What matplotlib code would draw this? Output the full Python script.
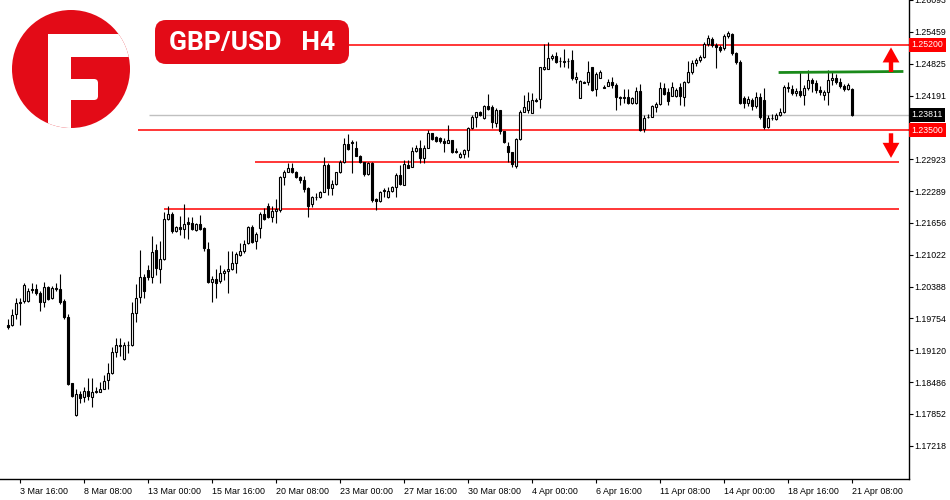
import numpy as np
import pandas as pd
import matplotlib
matplotlib.use('Agg')
import matplotlib.pyplot as plt
from matplotlib.patches import Circle, Rectangle, FancyBboxPatch, FancyArrow
from matplotlib.transforms import blended_transform_factory

# chart title
symbol = 'GBP/USD'
timeframe = 'H4'

# H4 candles, 3 Mar 04:00 .. 21 Apr 08:00
opens = [
    1.1962, 1.1962, 1.1984, 1.2008, 1.2010, 1.2010, 1.2034, 1.2034, 1.2026, 1.2008,
    1.2038, 1.2016, 1.2034, 1.2034, 1.2010, 1.1978, 1.1847, 1.1783, 1.1825, 1.1819,
    1.1831, 1.1819, 1.1829, 1.1829, 1.1835, 1.1853, 1.1867, 1.1909, 1.1921, 1.1895,
    1.1922, 1.1922, 1.1986, 1.2018, 1.2058, 1.2072, 1.2058, 1.2112, 1.2074, 1.2094,
    1.2173, 1.2183, 1.2149, 1.2157, 1.2153, 1.2167, 1.2165, 1.2151, 1.2163, 1.2155,
    1.2113, 1.2048, 1.2054, 1.2050, 1.2066, 1.2070, 1.2074, 1.2086, 1.2102, 1.2110,
    1.2125, 1.2157, 1.2129, 1.2155, 1.2183, 1.2199, 1.2177, 1.2189, 1.2191, 1.2257,
    1.2267, 1.2275, 1.2267, 1.2257, 1.2251, 1.2235, 1.2203, 1.2217, 1.2217, 1.2227,
    1.2281, 1.2235, 1.2243, 1.2267, 1.2287, 1.2322, 1.2326, 1.2314, 1.2299, 1.2287,
    1.2263, 1.2285, 1.2213, 1.2209, 1.2231, 1.2217, 1.2229, 1.2237, 1.2261, 1.2241,
    1.2281, 1.2277, 1.2309, 1.2314, 1.2295, 1.2314, 1.2344, 1.2336, 1.2334, 1.2328,
    1.2324, 1.2330, 1.2309, 1.2297, 1.2303, 1.2311, 1.2354, 1.2376, 1.2386, 1.2374,
    1.2398, 1.2396, 1.2364, 1.2390, 1.2348, 1.2318, 1.2307, 1.2279, 1.2332, 1.2386,
    1.2390, 1.2384, 1.2410, 1.2412, 1.2472, 1.2472, 1.2494, 1.2498, 1.2488, 1.2486,
    1.2488, 1.2490, 1.2452, 1.2414, 1.2446, 1.2446, 1.2476, 1.2432, 1.2454, 1.2436,
    1.2438, 1.2446, 1.2440, 1.2416, 1.2416, 1.2416, 1.2404, 1.2404, 1.2428, 1.2352,
    1.2376, 1.2376, 1.2396, 1.2402, 1.2434, 1.2426, 1.2418, 1.2418, 1.2436, 1.2416,
    1.2446, 1.2466, 1.2484, 1.2490, 1.2496, 1.2521, 1.2531, 1.2519, 1.2515, 1.2513,
    1.2537, 1.2541, 1.2504, 1.2486, 1.2414, 1.2404, 1.2410, 1.2398, 1.2416, 1.2410,
    1.2356, 1.2374, 1.2372, 1.2380, 1.2386, 1.2436, 1.2432, 1.2424, 1.2428, 1.2420,
    1.2434, 1.2450, 1.2444, 1.2430, 1.2420, 1.2426, 1.2450, 1.2454, 1.2446, 1.2438,
    1.2432, 1.2432,
]
highs = [
    1.1974, 1.1994, 1.2016, 1.2016, 1.2046, 1.2036, 1.2046, 1.2044, 1.2030, 1.2048,
    1.2040, 1.2040, 1.2046, 1.2064, 1.2014, 1.1984, 1.1847, 1.1835, 1.1831, 1.1839,
    1.1857, 1.1857, 1.1839, 1.1849, 1.1863, 1.1887, 1.1918, 1.1936, 1.1936, 1.1928,
    1.1930, 1.2008, 1.2044, 1.2112, 1.2064, 1.2082, 1.2139, 1.2123, 1.2129, 1.2187,
    1.2199, 1.2187, 1.2159, 1.2179, 1.2203, 1.2177, 1.2177, 1.2165, 1.2181, 1.2157,
    1.2127, 1.2060, 1.2074, 1.2082, 1.2074, 1.2110, 1.2110, 1.2108, 1.2125, 1.2131,
    1.2159, 1.2161, 1.2147, 1.2187, 1.2195, 1.2205, 1.2199, 1.2213, 1.2259, 1.2271,
    1.2285, 1.2285, 1.2269, 1.2259, 1.2259, 1.2237, 1.2219, 1.2225, 1.2229, 1.2297,
    1.2285, 1.2251, 1.2267, 1.2291, 1.2334, 1.2342, 1.2330, 1.2328, 1.2301, 1.2287,
    1.2287, 1.2287, 1.2215, 1.2229, 1.2235, 1.2237, 1.2239, 1.2265, 1.2281, 1.2291,
    1.2291, 1.2316, 1.2320, 1.2330, 1.2320, 1.2350, 1.2344, 1.2338, 1.2336, 1.2334,
    1.2360, 1.2330, 1.2314, 1.2307, 1.2312, 1.2356, 1.2380, 1.2386, 1.2388, 1.2400,
    1.2422, 1.2400, 1.2394, 1.2390, 1.2348, 1.2326, 1.2307, 1.2334, 1.2390, 1.2420,
    1.2426, 1.2424, 1.2414, 1.2476, 1.2521, 1.2525, 1.2502, 1.2506, 1.2496, 1.2511,
    1.2494, 1.2510, 1.2466, 1.2450, 1.2448, 1.2488, 1.2476, 1.2466, 1.2470, 1.2440,
    1.2452, 1.2456, 1.2444, 1.2418, 1.2432, 1.2432, 1.2416, 1.2436, 1.2442, 1.2380,
    1.2382, 1.2400, 1.2406, 1.2446, 1.2444, 1.2434, 1.2446, 1.2434, 1.2444, 1.2448,
    1.2488, 1.2490, 1.2494, 1.2500, 1.2525, 1.2539, 1.2535, 1.2523, 1.2519, 1.2541,
    1.2547, 1.2543, 1.2506, 1.2490, 1.2418, 1.2418, 1.2414, 1.2426, 1.2424, 1.2434,
    1.2380, 1.2382, 1.2384, 1.2394, 1.2440, 1.2446, 1.2440, 1.2434, 1.2466, 1.2440,
    1.2470, 1.2454, 1.2450, 1.2438, 1.2430, 1.2470, 1.2466, 1.2462, 1.2454, 1.2442,
    1.2444, 1.2434,
]
lows = [
    1.1954, 1.1960, 1.1974, 1.1962, 1.2006, 1.2008, 1.2026, 1.2022, 1.1990, 1.1998,
    1.2012, 1.2014, 1.2030, 1.2004, 1.1974, 1.1843, 1.1819, 1.1781, 1.1807, 1.1809,
    1.1813, 1.1799, 1.1827, 1.1829, 1.1835, 1.1835, 1.1865, 1.1899, 1.1901, 1.1893,
    1.1907, 1.1920, 1.1968, 1.2006, 1.2016, 1.2052, 1.2046, 1.2062, 1.2046, 1.2092,
    1.2171, 1.2145, 1.2147, 1.2141, 1.2135, 1.2133, 1.2151, 1.2149, 1.2151, 1.2110,
    1.2046, 1.2008, 1.2016, 1.2046, 1.2052, 1.2026, 1.2072, 1.2066, 1.2100, 1.2106,
    1.2123, 1.2125, 1.2113, 1.2135, 1.2171, 1.2175, 1.2167, 1.2165, 1.2187, 1.2241,
    1.2267, 1.2265, 1.2255, 1.2245, 1.2227, 1.2177, 1.2197, 1.2211, 1.2215, 1.2227,
    1.2221, 1.2221, 1.2241, 1.2265, 1.2285, 1.2311, 1.2265, 1.2299, 1.2285, 1.2259,
    1.2261, 1.2207, 1.2191, 1.2207, 1.2217, 1.2215, 1.2227, 1.2217, 1.2241, 1.2241,
    1.2275, 1.2277, 1.2307, 1.2285, 1.2285, 1.2314, 1.2330, 1.2326, 1.2324, 1.2307,
    1.2324, 1.2305, 1.2305, 1.2295, 1.2295, 1.2297, 1.2352, 1.2356, 1.2378, 1.2372,
    1.2390, 1.2354, 1.2356, 1.2342, 1.2324, 1.2287, 1.2277, 1.2275, 1.2330, 1.2386,
    1.2384, 1.2384, 1.2406, 1.2394, 1.2470, 1.2472, 1.2490, 1.2484, 1.2476, 1.2476,
    1.2474, 1.2450, 1.2444, 1.2414, 1.2444, 1.2440, 1.2428, 1.2418, 1.2454, 1.2434,
    1.2438, 1.2434, 1.2390, 1.2400, 1.2404, 1.2402, 1.2402, 1.2402, 1.2348, 1.2346,
    1.2374, 1.2376, 1.2386, 1.2400, 1.2420, 1.2400, 1.2418, 1.2416, 1.2400, 1.2398,
    1.2444, 1.2462, 1.2478, 1.2486, 1.2494, 1.2517, 1.2515, 1.2474, 1.2506, 1.2510,
    1.2533, 1.2500, 1.2482, 1.2402, 1.2394, 1.2398, 1.2390, 1.2394, 1.2372, 1.2352,
    1.2354, 1.2370, 1.2370, 1.2378, 1.2384, 1.2426, 1.2420, 1.2418, 1.2416, 1.2400,
    1.2430, 1.2426, 1.2424, 1.2420, 1.2410, 1.2400, 1.2440, 1.2442, 1.2434, 1.2428,
    1.2430, 1.2378,
]
closes = [
    1.1958, 1.1982, 1.2006, 1.2006, 1.2042, 1.2030, 1.2032, 1.2026, 1.2008, 1.2038,
    1.2014, 1.2036, 1.2036, 1.2008, 1.1978, 1.1845, 1.1821, 1.1825, 1.1817, 1.1831,
    1.1821, 1.1829, 1.1831, 1.1835, 1.1851, 1.1867, 1.1909, 1.1922, 1.1922, 1.1922,
    1.1923, 1.1986, 1.2016, 1.2058, 1.2030, 1.2058, 1.2108, 1.2076, 1.2094, 1.2173,
    1.2183, 1.2149, 1.2157, 1.2153, 1.2163, 1.2163, 1.2153, 1.2163, 1.2153, 1.2115,
    1.2048, 1.2054, 1.2046, 1.2066, 1.2070, 1.2074, 1.2086, 1.2104, 1.2110, 1.2123,
    1.2157, 1.2127, 1.2143, 1.2183, 1.2173, 1.2177, 1.2189, 1.2193, 1.2257, 1.2267,
    1.2275, 1.2267, 1.2257, 1.2251, 1.2233, 1.2199, 1.2217, 1.2218, 1.2227, 1.2281,
    1.2235, 1.2243, 1.2267, 1.2287, 1.2322, 1.2312, 1.2324, 1.2299, 1.2287, 1.2263,
    1.2285, 1.2211, 1.2209, 1.2227, 1.2230, 1.2229, 1.2237, 1.2261, 1.2243, 1.2283,
    1.2275, 1.2309, 1.2314, 1.2295, 1.2314, 1.2344, 1.2332, 1.2328, 1.2328, 1.2324,
    1.2330, 1.2307, 1.2307, 1.2303, 1.2311, 1.2354, 1.2376, 1.2386, 1.2380, 1.2398,
    1.2392, 1.2366, 1.2390, 1.2348, 1.2326, 1.2307, 1.2283, 1.2332, 1.2386, 1.2396,
    1.2408, 1.2410, 1.2409, 1.2476, 1.2476, 1.2494, 1.2498, 1.2486, 1.2487, 1.2487,
    1.2487, 1.2454, 1.2456, 1.2448, 1.2445, 1.2466, 1.2430, 1.2462, 1.2466, 1.2434,
    1.2446, 1.2440, 1.2416, 1.2415, 1.2414, 1.2404, 1.2414, 1.2428, 1.2350, 1.2374,
    1.2377, 1.2398, 1.2402, 1.2434, 1.2422, 1.2408, 1.2436, 1.2430, 1.2418, 1.2446,
    1.2466, 1.2484, 1.2490, 1.2496, 1.2521, 1.2533, 1.2519, 1.2515, 1.2510, 1.2537,
    1.2543, 1.2504, 1.2486, 1.2404, 1.2404, 1.2412, 1.2398, 1.2416, 1.2376, 1.2356,
    1.2374, 1.2375, 1.2380, 1.2386, 1.2436, 1.2434, 1.2424, 1.2428, 1.2420, 1.2434,
    1.2450, 1.2444, 1.2430, 1.2426, 1.2426, 1.2450, 1.2454, 1.2446, 1.2438, 1.2432,
    1.2440, 1.23811,
]

# price axis labels
price_ticks = [1.26093, 1.25459, 1.24825, 1.24191, 1.23557, 1.22923, 1.22289,
               1.21656, 1.21022, 1.20388, 1.19754, 1.19120, 1.18486, 1.17852, 1.17218]

# drawn levels
resistance = 1.25200
support = 1.23500
last_price = 1.23811
old_levels = [1.2287, 1.2194]
green_level = [1.2465, 1.2467]

RED = '#e30b17'
LINE_RED = '#ff0000'

# bar times: H4, weekdays only
times = [t for t in pd.date_range('2023-03-03 04:00', '2023-04-21 08:00', freq='4h')
         if t.weekday() < 5]
x = np.arange(len(times))

fig = plt.figure(figsize=(9.5, 5), dpi=100)
ax = fig.add_axes([0, 21 / 500, 909 / 950, 479 / 500])
ax.set_xlim(-2, 225.25)
ax.set_ylim(1.16558, 1.26090)

# candles
o, h, l, c = map(np.array, (opens, highs, lows, closes))
up = c >= o
ax.vlines(x, l, h, color='black', lw=0.8, zorder=2)
lo = np.minimum(o, c)
hgt = np.maximum(np.abs(c - o), 0.00002)
ax.bar(x[up], hgt[up], bottom=lo[up], width=0.5, color='white',
       edgecolor='black', lw=0.8, zorder=3)
ax.bar(x[~up], hgt[~up], bottom=lo[~up], width=0.5, color='black',
       edgecolor='black', lw=0.8, zorder=3)

# levels
ax.hlines(resistance, 38, 225.25, color=LINE_RED, lw=1.1, zorder=1)
ax.hlines(support, 32.5, 225.25, color=LINE_RED, lw=1.1, zorder=1)
ax.hlines(old_levels[0], 61.75, 222.75, color=LINE_RED, lw=1.1, zorder=1)
ax.hlines(old_levels[1], 39, 222.75, color=LINE_RED, lw=1.1, zorder=1)
ax.hlines(last_price, 35.25, 225.25, color='#c0c0c0', lw=1.0, zorder=1)
ax.plot([193, 223.5], green_level, color='#1a8a1a', lw=2, zorder=4)

# arrows
ax.add_patch(FancyArrow(220.75, 1.2466, 0, 0.0049, width=1.1, head_width=4.2,
                        head_length=0.0030, length_includes_head=True,
                        color=LINE_RED, lw=0, zorder=5))
ax.add_patch(FancyArrow(220.75, 1.2344, 0, -0.0049, width=1.1, head_width=4.2,
                        head_length=0.0030, length_includes_head=True,
                        color=LINE_RED, lw=0, zorder=5))

# axes look
for side in ('top', 'left'):
    ax.spines[side].set_visible(False)
ax.spines['right'].set_linewidth(1)
ax.spines['bottom'].set_linewidth(1)
ax.yaxis.tick_right()
ax.set_yticks(price_ticks)
ax.set_yticklabels([f'{v:.5f}' for v in price_ticks])
ax.tick_params(axis='y', direction='out', length=3, width=0.8, pad=1,
               labelsize=6.3, labelfontfamily='Liberation Sans')
ticks = x[3::16]
ax.set_xticks(ticks)
ax.set_xticklabels([f'{times[i].day} {times[i]:%b %H:%M}' for i in ticks],
                   ha='left')
ax.tick_params(axis='x', direction='out', length=3, width=0.8, pad=3,
               labelsize=6.4, labelfontfamily='Liberation Sans')

# price tags on the axis (they sit over the 1.23557 label, as in MT4)
tr = blended_transform_factory(ax.transAxes, ax.transData)
for val, col in [(resistance, LINE_RED), (last_price, 'black'), (support, LINE_RED)]:
    ax.text(1.0025, val, f'{val:.5f}', transform=tr, ha='left', va='center',
            color='white', fontsize=6.3, family='Liberation Sans', clip_on=False,
            zorder=10, bbox=dict(boxstyle='square,pad=0.3', fc=col, ec='none'))

# logo + title (pixel overlay)
ov = fig.add_axes([0, 0, 1, 1], zorder=5)
ov.set_xlim(0, 950)
ov.set_ylim(500, 0)
ov.axis('off')
ov.patch.set_alpha(0)

ring = Circle((71, 69), 59, fc=RED, ec='none')
ov.add_patch(ring)
for patch in [Rectangle((48, 34), 100, 23),
              Rectangle((48, 34), 23, 110),
              FancyBboxPatch((60, 79), 38, 21, boxstyle='round,pad=0,rounding_size=4')]:
    patch.set_facecolor('white')
    patch.set_edgecolor('none')
    ov.add_patch(patch)
    patch.set_clip_path(ring)

ov.add_patch(FancyBboxPatch((155, 20), 194, 44, boxstyle='round,pad=0,rounding_size=11',
                            fc=RED, ec='none'))
ov.text(252, 43, f'{symbol}   {timeframe}', ha='center', va='center', color='white',
        fontsize=19, fontweight='bold', family='Roboto')

fig.savefig('out.png', dpi=100)
